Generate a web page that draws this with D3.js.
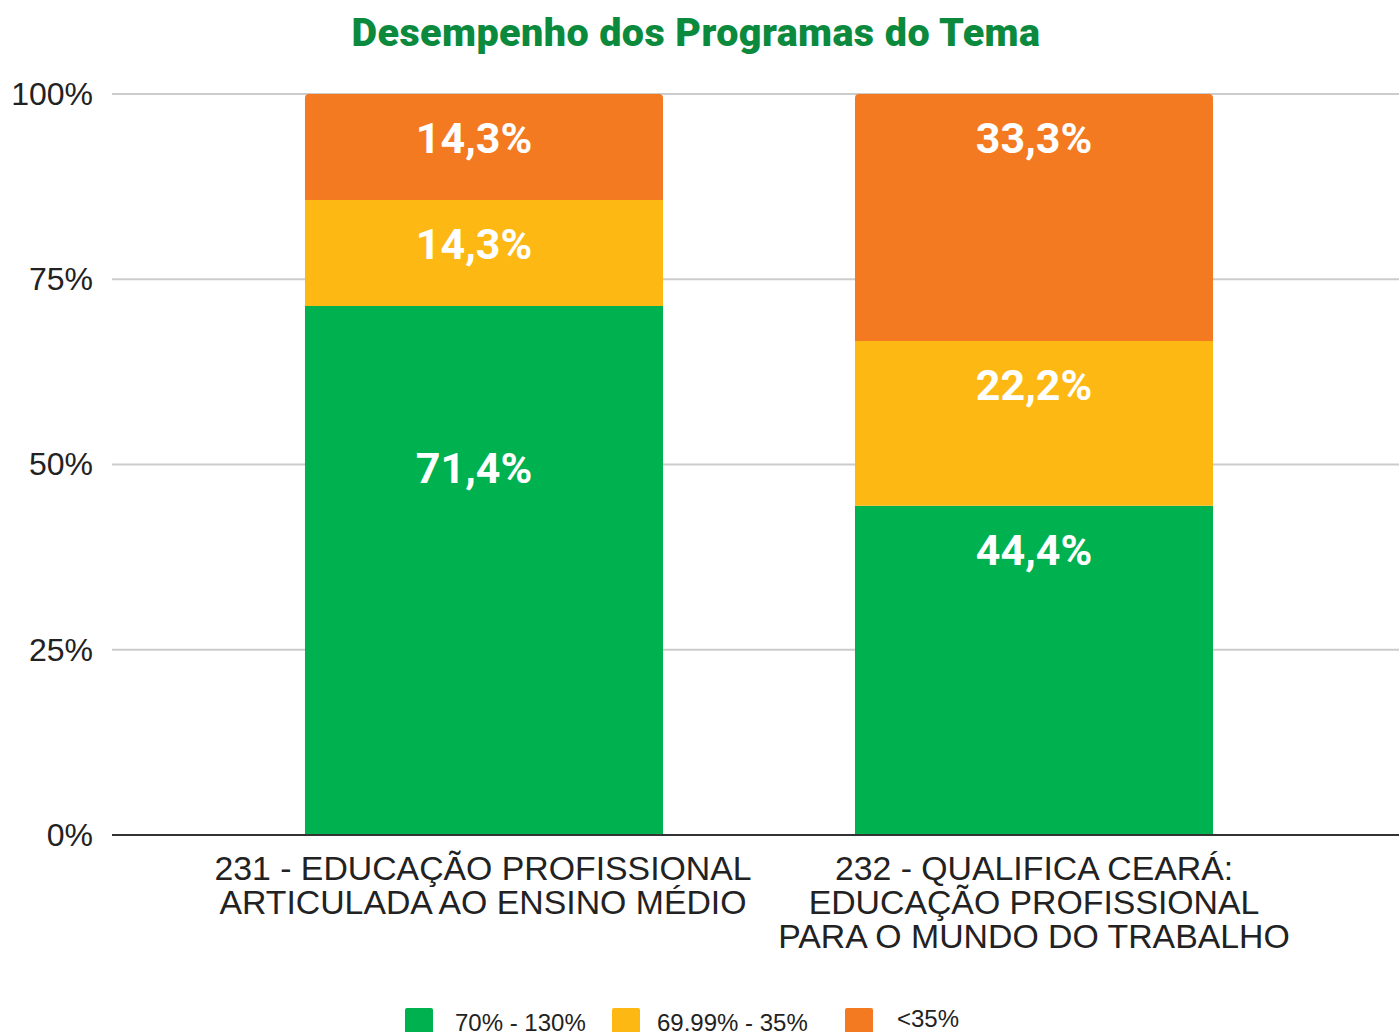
<!DOCTYPE html>
<html>
<head>
<meta charset="utf-8">
<script src="https://cdn.jsdelivr.net/npm/d3@7"></script>
<style>
  html, body { margin: 0; padding: 0; background: #fff; }
  svg { display: block; }
</style>
</head>
<body>
<svg id="chart" width="1399" height="1032"></svg>
<script>
// Programs (x categories), each label split into lines
const programs = ["231", "232"];
const programLines = [
  ["231 - EDUCAÇÃO PROFISSIONAL", "ARTICULADA AO ENSINO MÉDIO"],
  ["232 - QUALIFICA CEARÁ:", "EDUCAÇÃO PROFISSIONAL", "PARA O MUNDO DO TRABALHO"]
];

// Performance bands (stack order bottom to top)
const bands = ["70% - 130%", "69.99% - 35%", "<35%"];
const bandColors = ["#00b14f", "#fdb813", "#f47a22"];

// Share of indicators in each band, per program
const high = [71.4, 44.4];
const mid = [14.3, 22.2];
const low = [14.3, 33.3];

const yTicks = [0, 25, 50, 75, 100];
const yTickLabels = ["0%", "25%", "50%", "75%", "100%"];

const title = "Desempenho dos Programas do Tema";

const rows = programs.map((p, i) => ({ program: p, [bands[0]]: high[i], [bands[1]]: mid[i], [bands[2]]: low[i] }));

const svg = d3.select("#chart");
const W = 1399;
const margin = { left: 112 };
const plotBottom = 835, plotTop = 94;

const x = d3.scaleBand().domain(programs).range([209, 1309]).paddingInner(0.349).paddingOuter(0.1745);
const y = d3.scaleLinear().domain([0, 1]).range([plotBottom, plotTop]);
const yPct = d3.scaleLinear().domain([0, 100]).range([plotBottom, plotTop]);

const stack = d3.stack().keys(bands).offset(d3.stackOffsetExpand);
const series = stack(rows);

// title
svg.append("text")
  .attr("x", 696).attr("y", 46)
  .attr("text-anchor", "middle")
  .attr("font-family", "Roboto, 'Open Sans', sans-serif")
  .attr("font-weight", 900)
  .attr("font-size", 39.5)
  .attr("letter-spacing", 0.4)
  .attr("fill", "#0b8a3e")
  .text(title);

// gridlines + y axis labels
const yAxis = d3.axisLeft(yPct).tickValues(yTicks).tickFormat((d, i) => yTickLabels[i]).tickSize(0).tickPadding(19);
const gy = svg.append("g").attr("transform", `translate(${margin.left},0)`).call(yAxis);
gy.select(".domain").remove();
gy.selectAll("text")
  .attr("font-family", "'Liberation Sans', Arial, sans-serif")
  .attr("font-size", 32)
  .attr("fill", "#222");

svg.append("g").selectAll("line").data(yTicks.filter(d => d > 0)).join("line")
  .attr("x1", margin.left).attr("x2", W)
  .attr("y1", d => yPct(d)).attr("y2", d => yPct(d))
  .attr("stroke", "#cccccc").attr("stroke-width", 2);

// stacked bars
const bw = x.bandwidth();
const r = 4;
const g = svg.append("g");
series.forEach((s, si) => {
  g.selectAll(null).data(s).join("path")
    .attr("fill", bandColors[si])
    .attr("d", d => {
      const x0 = x(d.data.program), x1 = x0 + bw;
      const yt = y(d[1]), yb = y(d[0]);
      if (si === series.length - 1) {
        return `M${x0},${yb}V${yt + r}Q${x0},${yt} ${x0 + r},${yt}H${x1 - r}Q${x1},${yt} ${x1},${yt + r}V${yb}Z`;
      }
      return `M${x0},${yb}V${yt}H${x1}V${yb}Z`;
    });
});

// value labels: just below each segment's top; a majority segment is labelled at mid-height
const fmt = v => d3.format(".1f")(v).replace(".", ",") + "%";
const labelNudge = [-10, 0];
series.forEach((s, si) => {
  g.selectAll(null).data(s).join("text")
    .attr("x", (d, i) => x(d.data.program) + bw / 2 + labelNudge[i])
    .attr("y", d => {
      const v = d.data[bands[si]];
      return v > 50 ? y(0.5) + 18 : y(d[1]) + 59;
    })
    .attr("text-anchor", "middle")
    .attr("font-family", "Roboto, sans-serif")
    .attr("font-weight", 700)
    .attr("font-size", 43)
    .attr("fill", "#fff")
    .text(d => fmt(d.data[bands[si]]));
});

// baseline
svg.append("line")
  .attr("x1", margin.left).attr("x2", W)
  .attr("y1", plotBottom).attr("y2", plotBottom)
  .attr("stroke", "#333").attr("stroke-width", 2);

// x category labels
programs.forEach((p, i) => {
  const cx = x(p) + bw / 2 + (i === 0 ? -1 : 0);
  const t = svg.append("text")
    .attr("x", cx)
    .attr("y", 880)
    .attr("text-anchor", "middle")
    .attr("font-family", "'Liberation Sans', Arial, sans-serif")
    .attr("font-size", 33.8)
    .attr("fill", "#222");
  programLines[i].forEach((line, li) => {
    t.append("tspan").attr("x", cx).attr("dy", li === 0 ? 0 : 34).text(line);
  });
});

// legend
const legendX = [405, 612, 845];
const legendTextX = [455, 657, 897];
const legendTextY = [1031, 1031, 1027];
const lg = svg.append("g");
bands.forEach((b, i) => {
  lg.append("rect")
    .attr("x", legendX[i]).attr("y", 1008)
    .attr("width", 28).attr("height", 28)
    .attr("rx", 2)
    .attr("fill", bandColors[i]);
  lg.append("text")
    .attr("x", legendTextX[i]).attr("y", legendTextY[i])
    .attr("font-family", "'Liberation Sans', Arial, sans-serif")
    .attr("font-size", 24)
    .attr("fill", "#222")
    .text(b);
});
</script>
</body>
</html>
